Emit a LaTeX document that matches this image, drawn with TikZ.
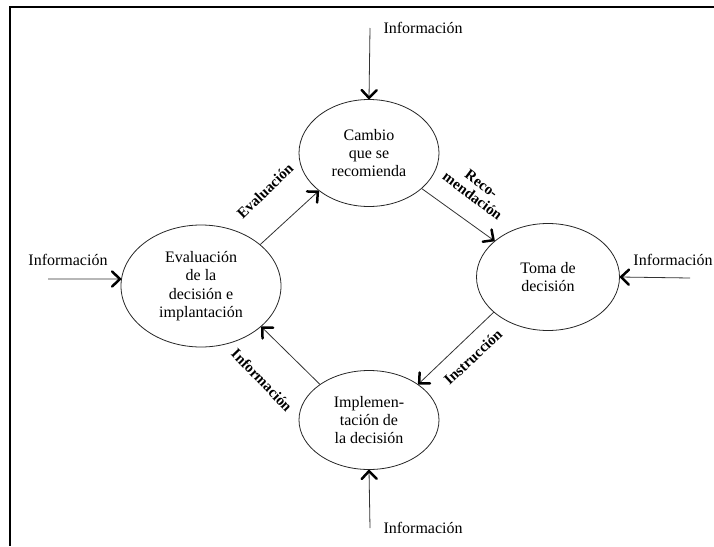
\documentclass[tikz,border=0pt]{standalone}
\usepackage{fontspec}
\setmainfont{Liberation Serif}
\usetikzlibrary{shapes.geometric,decorations.markings,positioning}

\begin{document}
\begin{tikzpicture}[x=1pt,y=-1pt,
  etapa/.style={draw=black!85,ellipse,line width=0.8pt,inner sep=0pt,align=center,font=\fontsize{16}{18.3}\selectfont},
  flujo/.style={line width=0.8pt,draw=black!80,postaction={decorate},
    decoration={markings,mark=at position 1 with {\draw[black,line width=2.5pt,line cap=round,line join=round] (-9pt,-7.5pt) -- (-1.2pt,0pt) -- (-9pt,7.5pt);}}},
  info/.style={font=\fontsize{16}{18}\selectfont},
  rotulo/.style={font=\fontsize{15}{15}\selectfont\bfseries,align=center}]
\useasboundingbox (0,0) rectangle (714,546);
% Marco
\draw[line width=1.6pt] (714,7) -- (10,7) -- (10,546);

% Etapas
\node[etapa,minimum width=140pt,minimum height=107pt] (cambio) at (369,153) {Cambio\\que se\\recomienda};
\node[etapa,minimum width=160pt,minimum height=122pt] (evalua) at (201,286) {Evaluación\\de la\\decisión e\\implantación};
\node[etapa,minimum width=143pt,minimum height=107pt] (toma) at (548,277) {Toma de\\decisión};
\node[etapa,minimum width=140pt,minimum height=99pt] (implem) at (369,420) {Implemen-\\tación de\\la decisión};

% Ciclo
\draw[flujo] (evalua.35) -- (cambio.217);
\draw[flujo] (cambio.-34) -- (toma.146);
\draw[flujo] (toma.213) -- (implem.36);
\draw[flujo] (implem.144) -- (evalua.-34);

\node[rotulo,rotate=44] (rEval) at (265,191) {Evaluación};
\node[rotulo,rotate=-37] (rReco) at (477,190) {Reco-\\mendación};
\node[rotulo,rotate=43] (rInst) at (473,357) {Instrucción};
\node[rotulo,rotate=-46] (rInfo) at (262,380) {Información};

% Entradas de informacion
\coordinate (inT) at (370,28);
\coordinate (inB) at (370,528);
\coordinate (inL) at (48,279);
\coordinate (inR) at (690,278);
\draw[flujo] (inT) -- (cambio.north);
\draw[flujo] (inB) -- (implem.south);
\draw[flujo] (inL) -- (evalua.175);
\draw[flujo] (inR) -- (toma.east);
\node[info,right=10pt of inT] (lT) {Información};
\node[info,right=10pt of inB] (lB) {Información};
\node[info] (lL) at (68,260) {Información};
\node[info] (lR) at (673,260) {Información};
\end{tikzpicture}
\end{document}
